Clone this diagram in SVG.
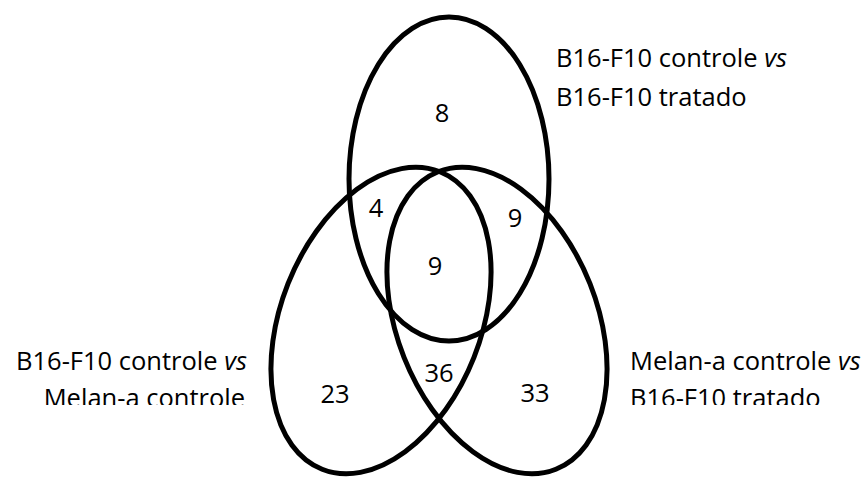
<svg xmlns="http://www.w3.org/2000/svg" width="868" height="480" viewBox="0 0 868 480">
  <style>
    .set { fill: none; stroke: #000; stroke-width: 5; }
    .lbl { font-family: "Open Sans", "Liberation Sans", sans-serif; font-size: 25.5px; fill: #000; }
    .num { font-family: "Open Sans", "Liberation Sans", sans-serif; font-size: 25.5px; fill: #000; text-anchor: middle; }
  </style>
  <defs>
    <!-- the lower captions are cut off just above their second baseline -->
    <clipPath id="lowerCut">
      <rect x="0" y="0" width="868" height="405"/>
    </clipPath>
  </defs>
  <rect width="868" height="480" fill="#fff"/>

  <!-- set outlines -->
  <g id="set-b16-tratado">
    <ellipse class="set" cx="449" cy="179" rx="100" ry="162"/>
  </g>
  <g id="set-b16-melan">
    <ellipse class="set" cx="381" cy="320.5" rx="100" ry="160" transform="rotate(21.6 381 320.5)"/>
  </g>
  <g id="set-melan-tratado">
    <ellipse class="set" cx="497" cy="320.5" rx="100" ry="160" transform="rotate(-21.6 497 320.5)"/>
  </g>

  <!-- region counts -->
  <g id="counts">
    <text class="num" x="442" y="122">8</text>
    <text class="num" x="376" y="217">4</text>
    <text class="num" x="515" y="227">9</text>
    <text class="num" x="435" y="275">9</text>
    <text class="num" x="439" y="382">36</text>
    <text class="num" x="335" y="403">23</text>
    <text class="num" x="535" y="402">33</text>
  </g>

  <!-- captions -->
  <g id="label-top">
    <text class="lbl" x="556" y="67">B16-F10 controle <tspan font-style="italic">vs</tspan></text>
    <text class="lbl" x="556" y="106">B16-F10 tratado</text>
  </g>
  <g id="label-left" clip-path="url(#lowerCut)">
    <text class="lbl" x="247" y="370" text-anchor="end">B16-F10 controle <tspan font-style="italic">vs</tspan></text>
    <text class="lbl" x="245" y="407" text-anchor="end">Melan-a controle</text>
  </g>
  <g id="label-right" clip-path="url(#lowerCut)">
    <text class="lbl" x="630" y="370">Melan-a controle <tspan font-style="italic">vs</tspan></text>
    <text class="lbl" x="630" y="407">B16-F10 tratado</text>
  </g>
</svg>
